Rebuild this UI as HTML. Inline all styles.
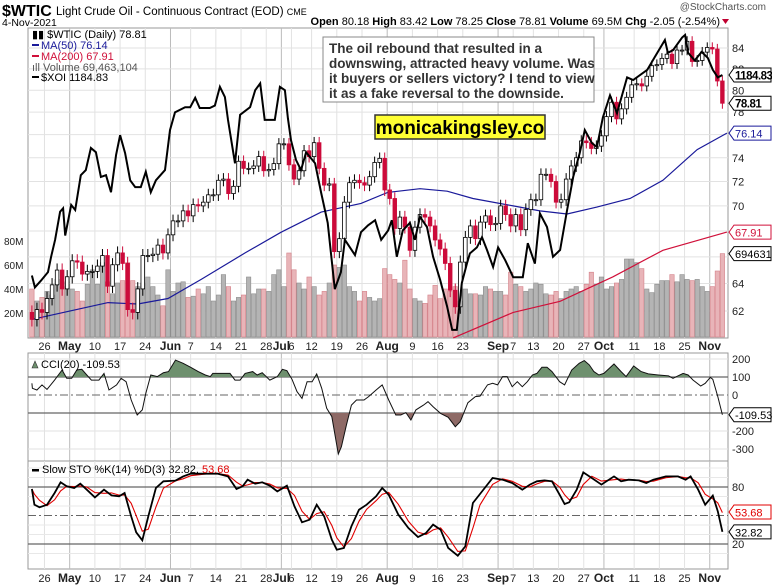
<!DOCTYPE html>
<html><head><meta charset="utf-8">
<style>
html,body{margin:0;padding:0;background:#fff;}
svg{display:block;font-family:"Liberation Sans",Arial,sans-serif;}
</style></head>
<body>
<svg id="chart" width="772" height="585" viewBox="0 0 772 585" xmlns="http://www.w3.org/2000/svg">
<rect x="0" y="0" width="772" height="585" fill="#fff"/>
<g>
<text x="2" y="16" font-size="16" font-weight="bold">$WTIC</text>
<text x="56" y="15" font-size="11.5">Light Crude Oil - Continuous Contract (EOD) <tspan font-size="9">CME</tspan></text>
<text x="2" y="26" font-size="10.5">4-Nov-2021</text>
<text x="766" y="10" font-size="10" fill="#555" text-anchor="end">@StockCharts.com</text>
<text x="720" y="25" font-size="11" text-anchor="end"><tspan font-weight="bold">Open</tspan> 80.18  <tspan font-weight="bold">High</tspan> 83.42  <tspan font-weight="bold">Low</tspan> 78.25  <tspan font-weight="bold">Close</tspan> 78.81  <tspan font-weight="bold">Volume</tspan> 69.5M  <tspan font-weight="bold">Chg</tspan> -2.05 (-2.54%)</text>
<path d="M722,19 L729,19 L725.5,24 Z" fill="#c00030"/>
</g>
<g id="grid"></g>
<g id="marks"></g>
<g id="overlay"></g>
</svg>
<script>
// ---------------- data ----------------
const closes = [61.4,62.1,61.9,62.9,63.9,65.0,63.6,
64.5,65.7,65.6,64.7,64.9,64.9,65.3,66.1,63.8,65.4,66.3,65.5,62.1,61.9,63.6,66.1,66.1,66.2,66.9,66.3,
67.7,68.8,68.8,69.6,69.2,70.1,70.0,70.3,70.9,70.9,72.1,72.2,71.0,71.6,73.7,73.1,73.1,73.3,74.1,72.9,73.0,73.5,
75.2,75.2,73.4,72.2,72.9,74.6,74.1,75.3,73.1,71.7,71.8,66.4,67.4,70.3,71.9,72.1,71.9,71.7,72.4,73.6,73.95,
71.3,70.6,68.2,69.1,68.3,66.5,68.3,69.3,69.1,68.4,67.3,66.6,65.5,63.5,62.3,65.6,67.5,68.4,67.4,68.7,69.2,68.5,
68.6,70.0,69.3,68.4,69.3,68.1,69.7,70.5,70.5,72.6,72.6,72.0,70.3,70.5,72.2,73.3,74.0,75.45,75.3,74.8,75.0,
75.9,77.6,78.9,77.4,78.3,79.35,80.5,80.6,80.4,81.3,82.3,82.4,83.0,83.4,82.5,83.8,83.8,84.65,82.7,82.8,83.6,
84.05,83.9,80.86,78.81];
const firstOpen = 61.9;
const volumes = [40,30,33,38,35,48,42,
46,40,38,30,44,56,44,62,46,36,45,47,62,47,42,45,50,42,35,26,
56,38,45,46,33,34,40,36,42,30,35,52,42,30,33,35,50,36,40,40,38,52,
56,42,70,56,45,40,50,42,35,38,45,60,58,60,42,38,30,38,33,30,32,
57,52,48,45,64,40,32,30,28,35,43,32,40,38,42,30,40,36,36,35,42,40,
38,38,35,54,44,42,38,40,45,44,36,35,38,32,38,40,42,38,44,54,44,
50,40,42,45,48,65,65,62,57,40,37,44,47,47,52,46,52,48,47,48,42,
38,42,55,69.5];
const ma50Day = [0,15.1,21,27,33.6,42.3,49.4,57.4,65.3,70.6,77,82.4,87.5,95.5,100.8,106.2,112.1,118.7,125.2,132,137.9];
const ma50Val = [61.4,62.6,62.5,62.9,64.3,66.3,67.9,69.5,70.2,71.1,71.4,71.2,70.6,70.0,69.6,69.35,69.9,70.6,72.1,74.7,76.14];
const ma200Day = [83.6,95.5,104.8,115.3,125.2,137.9];
const ma200Val = [60.1,61.9,62.7,64.5,66.5,67.91];
const xoiDay = [0,0.6,1.8,3.2,3.8,4.6,5.6,6.2,6.6,7.8,8.6,9.7,10.7,11.7,12.7,13.7,14.7,15.7,16.7,17.5,18.5,19.5,20.5,21.6,22.6,23.6,24.6,26.4,27.4,28.4,30.4,31.4,32.4,33.3,35.3,36.3,37.3,38.3,38.9,40.3,41.3,43.3,44.3,45.3,46.2,48.2,49.2,50.2,50.8,51.4,52.4,53.4,54.4,56.2,57.4,58.7,60.1,61.3,62.1,64.1,65.3,66.7,68.1,69.3,70.7,71.4,72.4,73.6,75.0,76.0,77.0,78.4,79.6,81.0,82.4,83.4,84.3,85.3,86.3,86.9,88.3,89.3,90.3,91.5,92.5,93.9,95.5,97.4,98.4,99.8,100.8,102.2,103.4,104.8,106.2,107.4,108.7,109.7,111.1,112.1,113.3,114.7,116.1,118.1,119.3,122.1,123.6,125.6,126.2,127.2,129.0,129.6,130.2,131.5,132.9,134.1,135.1,136.1,137];
const xoiVal = [949,935,943,953,971,991,1024,1028,996,1032,1026,1067,1073,1099,1094,1065,1067,1047,1091,1114,1093,1061,1053,1053,1071,1047,1061,1073,1120,1141,1147,1147,1158,1146,1146,1149,1171,1159,1132,1081,1138,1147,1167,1175,1132,1132,1171,1167,1134,1108,1085,1073,1094,1081,1046,1011,933,953,991,973,1000,1008,1014,991,1002,1014,971,1002,1011,991,1018,1006,971,944,912,885,885,940,963,975,982,994,979,959,982,967,947,947,987,963,1022,1006,971,979,1026,1065,1093,1120,1105,1100,1135,1161,1140,1182,1179,1191,1206,1226,1211,1214,1229,1232,1211,1202,1212,1205,1191,1182,1184.83];
const cciDay = [0,0.1,1.0,2.0,3.0,4.5,6.0,6.9,7.9,8.9,9.9,10.9,11.8,13.3,14.3,15.3,16.8,17.7,18.7,19.7,20.9,21.9,22.6,23.6,24.9,26.1,27.1,28.5,30.0,31.5,33.0,34.4,35.4,35.9,37.9,39.3,40.3,41.3,42.3,43.8,44.7,45.7,47.2,48.7,49.7,50.6,51.6,52.6,53.6,54.6,55.6,56.5,57.5,58.5,59.5,60.8,61.4,62.4,63.4,64.4,65.9,66.8,68.3,69.5,70.8,72.2,73.2,74.2,75.2,76.2,77.7,78.6,79.6,81.1,82.6,84.0,85.0,86.5,88.0,88.9,90.4,91.4,92.4,93.4,94.3,95.3,96.3,97.3,98.3,99.3,100.2,101.2,102.2,103.2,104.7,105.7,107.1,108.6,109.6,110.6,111.5,112.5,113.5,115.5,116.9,117.9,119.4,120.9,122.3,124.3,126.3,127.2,129.2,130.2,131.2,132.7,133.6,134.6,135.1,136.1,137];
const cciVal = [65,37,28,56,31,83,139,93,93,139,143,111,83,83,120,28,56,93,74,-28,-111,-83,9,111,102,124,130,194,176,154,130,111,102,120,120,120,83,83,120,130,111,124,83,102,143,135,87,19,-19,74,74,117,37,-74,-120,-328,-287,-167,-56,-28,-28,-9,28,56,-28,-111,-111,-98,-139,-83,-56,-37,-65,-102,-124,-176,-148,-43,-9,-6,56,65,56,102,102,46,74,46,74,111,120,154,154,130,74,56,139,176,191,167,130,111,120,172,130,102,161,130,117,111,106,93,120,111,83,50,65,98,87,-9,-109.53];
const stoDay = [0,0.5,1.5,3.0,4.5,5.7,6.9,8.4,9.6,10.9,12.5,14.3,15.8,17.3,18.4,19.7,20.7,21.9,23.1,24.6,26.1,28.5,30.0,31.5,35.0,36.9,38.9,40.6,41.8,42.8,44.3,45.7,47.2,48.7,50.6,52.1,53.6,55.1,56.5,58.0,59.5,60.5,61.9,63.4,64.9,66.4,68.3,69.5,70.8,72.7,74.7,76.6,78.2,79.6,81.1,82.6,84.5,86.0,87.5,88.9,91.4,93.4,95.3,97.3,98.8,100.2,101.7,103.2,104.7,105.7,106.6,108.1,109.4,111.1,113.0,115.5,116.9,118.4,120.4,121.9,123.3,125.8,128.2,129.7,130.7,132.2,133.6,135.1,136.1,137];
const stoK = [77.9,61.4,58.6,61.4,73.7,84.9,80.7,78.9,83.5,77.2,69.1,77.2,71.2,70.2,73.7,49.1,32.3,23.9,49.1,78.9,86.0,86.7,91.2,94,94,94,91.2,77.9,80.7,87.7,83.5,84.9,81.4,75.4,81.4,59.6,42.8,45.6,61.4,49.1,24.6,14.0,15.8,38.6,56.1,61.4,70.2,78.9,71.9,50.9,36.8,27.4,31.6,40.4,35.1,15.8,7.7,17.5,63.2,72.6,89.5,87.7,84.2,77.2,82.5,86.0,87.0,86.0,71.9,62.1,63.9,77.2,95.4,89.5,82.5,91.2,86.0,87.7,87.0,84.2,87.7,91.2,91.2,87.7,91.2,77.2,61.4,70.9,54.4,32.82];
const dateLabels = ['26','May','10','17','24','Jun','7','14','21','28','Jul','6','12','19','26','Aug','9','16','23','Sep','7','13','20','27','Oct','11','18','25','Nov'];
const dateLabelDay = [2,7,12,17,22,27,31,36,41,46,49,51,55,60,65,70,75,80,85,92,95,99,104,109,113,119,124,129,134];
const priceTicks = [62,64,66,68,70,72,74,76,78,80,82,84];
const volTicks = [20,40,60,80];
const cciTicks = [200,100,0,-100,-200,-300];
const stoTicks = [80,20];

// ---------------- scales ----------------
const L = 28, R = 728;
const P = {top:28, bot:338}, C = {top:353, bot:461}, S = {top:461, bot:569};
const xDay = i => 31.9 + i*5.04;
const gridOff = 2.5;
const yPrice = v => 48 + (Math.log(84) - Math.log(v))*866;
const yVol = v => 337 - v*1.2;
const yXoi = v => 75 + (1184.83 - v)*0.85;
const yCci = v => 395 - v*0.18;
const ySto = v => 487 + (80 - v)*0.95;
const NS = 'http://www.w3.org/2000/svg';
function mk(parent, tag, attrs, text){
  const e = document.createElementNS(NS, tag);
  for (const k in attrs) e.setAttribute(k, attrs[k]);
  if (text !== undefined) e.textContent = text;
  parent.appendChild(e);
  return e;
}
const grid = document.getElementById('grid');
const marks = document.getElementById('marks');
const over = document.getElementById('overlay');

[[P,'price-panel'],[C,'cci-panel'],[S,'stochastic-panel']].forEach(([p,name])=>{
  const r = mk(grid,'rect',{x:L,y:p.top,width:R-L,height:p.bot-p.top,fill:'#fff',stroke:'#999','stroke-width':1});
  
  
  dateLabelDay.forEach((d,k)=>{
    const isMonth = /[A-Z]/.test(dateLabels[k]);
    const gl = mk(grid,'line',{x1:xDay(d)+gridOff,x2:xDay(d)+gridOff,y1:p.top,y2:p.bot,stroke:isMonth?'#bbb':'#e2e2e2','stroke-width':1});
    
    
  });
});
priceTicks.forEach(t=>{
  const gl = mk(grid,'line',{x1:L,x2:R,y1:yPrice(t),y2:yPrice(t),stroke:'#e2e2e2'});
  
  
  const tl = mk(grid,'text',{x:R+4,y:yPrice(t)+4,'font-size':11,fill:'#222'},String(t));
  
  
});
volTicks.forEach(t=>{
  const tl = mk(grid,'text',{x:4,y:yVol(t)+4,'font-size':10,fill:'#222'},t+'M');
  
  
});
[345,577].forEach(yy=>{
  dateLabels.forEach((lab,k)=>{
    const isMonth = /[A-Z]/.test(lab);
    const t = mk(grid,'text',{x:xDay(dateLabelDay[k])+gridOff,y:yy+5,'font-size':isMonth?12:11,'font-weight':isMonth?'bold':'normal','text-anchor':'middle',fill:'#222'},lab);
    
    
  });
});
cciTicks.forEach(t=>{
  if (t===100||t===-100){
    const l = mk(grid,'line',{x1:L,x2:R,y1:yCci(t),y2:yCci(t),stroke:'#666','stroke-width':1.2});
    
    
  } else if (t===0){
    const l = mk(grid,'line',{x1:L,x2:R,y1:yCci(t),y2:yCci(t),stroke:'#666','stroke-dasharray':'8,3,2,3'});
    
    
  } else {
    const l = mk(grid,'line',{x1:L,x2:R,y1:yCci(t),y2:yCci(t),stroke:'#e2e2e2'});
    
    
  }
  if (t!==-100){
    const tl = mk(grid,'text',{x:R+4,y:yCci(t)+4,'font-size':11,fill:'#222'},String(t));
    
    
  }
});
[100,90,70,60,40,30,10].forEach(t=>{
  const l = mk(grid,'line',{x1:L,x2:R,y1:ySto(t),y2:ySto(t),stroke:'#e8e8e8'});
  
  
});
stoTicks.forEach(t=>{
  const l = mk(grid,'line',{x1:L,x2:R,y1:ySto(t),y2:ySto(t),stroke:'#666','stroke-width':1.2});
  
  
  const tl = mk(grid,'text',{x:R+4,y:ySto(t)+4,'font-size':11,fill:'#222'},String(t));
  
  
});
{
  const l = mk(grid,'line',{x1:L,x2:R,y1:ySto(50),y2:ySto(50),stroke:'#666','stroke-dasharray':'8,3,2,3'});
  
  
}

volumes.forEach((v,i)=>{
  const prev = i ? closes[i-1] : firstOpen;
  const down = closes[i] < prev;
  const b = mk(marks,'rect',{x:xDay(i)-2.2,y:yVol(v),width:4.4,height:337-yVol(v),fill:down?'#e8b4b8':'#b4b4b4',stroke:down?'#d48088':'#8c8c8c','stroke-width':0.6});
  
  
});
function poly(days, vals, yf, attrs, name){
  const n = Math.min(days.length, vals.length);
  let d = '';
  for (let k=0;k<n;k++) d += (k?'L':'M') + xDay(days[k]).toFixed(1) + ',' + yf(vals[k]).toFixed(1);
  const p = mk(marks,'path',Object.assign({d:d,fill:'none'},attrs));
  
  
  return p;
}
poly(ma200Day, ma200Val, yPrice, {stroke:'#d0103a','stroke-width':1.2}, 'ma200-line');
poly(ma50Day, ma50Val, yPrice, {stroke:'#1a1a9a','stroke-width':1.2}, 'ma50-line');
closes.forEach((c,i)=>{
  const o = i ? closes[i-1] : firstOpen;
  const down = c < o;
  const col = down ? '#cc0a3a' : '#000';
  const hi = Math.max(o,c)+0.5, lo = Math.min(o,c)-0.5;
  const w = mk(marks,'line',{x1:xDay(i),x2:xDay(i),y1:yPrice(hi),y2:yPrice(lo),stroke:col,'stroke-width':1});
  
  
  const top = yPrice(Math.max(o,c)), h = Math.max(1, yPrice(Math.min(o,c))-top);
  const b = mk(marks,'rect',{x:xDay(i)-1.8,y:top,width:3.6,height:h,fill:down?col:'#fff',stroke:col,'stroke-width':0.8});
  
  
});
poly(xoiDay, xoiVal, yXoi, {stroke:'#000','stroke-width':2}, 'xoi-line');

function fillBand(days, vals, thr, above, color, name){
  const n = Math.min(days.length, vals.length);
  let pts = [];
  for (let k=0;k<n;k++){
    if (k>0){
      const a = vals[k-1]-thr, b = vals[k]-thr;
      if (a*b<0){ const t=a/(a-b); pts.push([days[k-1]+t*(days[k]-days[k-1]), thr]); }
    }
    const v = above ? Math.max(vals[k],thr) : Math.min(vals[k],thr);
    pts.push([days[k], v]);
  }
  let d = 'M'+xDay(pts[0][0])+','+yCci(thr);
  pts.forEach(p=>{ d += 'L'+xDay(p[0]).toFixed(1)+','+yCci(p[1]).toFixed(1); });
  d += 'L'+xDay(pts[pts.length-1][0])+','+yCci(thr)+'Z';
  const p = mk(marks,'path',{d:d,fill:color,stroke:'none'});
  
  
}
fillBand(cciDay, cciVal, 100, true, '#6e906e', 'cci-overbought-fill');
fillBand(cciDay, cciVal, -100, false, '#8e6a66', 'cci-oversold-fill');
poly(cciDay, cciVal, yCci, {stroke:'#111','stroke-width':1}, 'cci-line');

function kAt(t){
  if (t<=stoDay[0]) return stoK[0];
  for (let k=1;k<stoDay.length;k++){ if (t<=stoDay[k]){ const f=(t-stoDay[k-1])/(stoDay[k]-stoDay[k-1]); return stoK[k-1]+f*(stoK[k]-stoK[k-1]); } }
  return stoK[stoK.length-1];
}
const stoD = stoDay.map(t => (kAt(t)+kAt(t-1)+kAt(t-2))/3);
poly(stoDay, stoD, ySto, {stroke:'#e00000','stroke-width':1.1}, 'sto-d-line');
poly(stoDay, stoK, ySto, {stroke:'#000','stroke-width':1.8}, 'sto-k-line');

function tag(y, text, color, name, bold){
  const g = mk(over,'g',{});
  
  
  mk(g,'path',{d:`M${R+1},${y} L${R+6},${y-7} L771,${y-7} L771,${y+7} L${R+6},${y+7} Z`,fill:'#fff',stroke:color,'stroke-width':1});
  mk(g,'text',{x:R+7,y:y+4.5,'font-size':bold?11.5:11,'font-weight':bold?'bold':'normal','letter-spacing':bold?'-0.5':'0',fill:bold?'#000':color},text);
}
tag(yXoi(1184.83),'1184.83','#000','xoi-value-tag',true);
tag(yPrice(78.81),'78.81','#000','price-value-tag',true);
tag(yPrice(76.14),'76.14','#1a1a9a','ma50-value-tag',false);
tag(yPrice(67.91),'67.91','#d0103a','ma200-value-tag',false);
tag(yVol(69.46),'6946310','#000','volume-value-tag',false);
tag(yCci(-109.53),'-109.53','#000','cci-value-tag',false);
tag(ySto(53.68),'53.68','#e00000','sto-d-value-tag',false);
tag(ySto(32.82),'32.82','#000','sto-k-value-tag',false);
</script>
<svg style="position:absolute;left:0;top:0" width="772" height="585">
<g font-family="Liberation Sans, sans-serif" font-size="11">
<text x="32" y="38">▮▮ $WTIC (Daily) 78.81</text>
<rect x="32" y="44" width="7" height="2" fill="#1a1a9a"/>
<text x="41" y="49" fill="#1a1a9a">MA(50) 76.14</text>
<rect x="32" y="55" width="7" height="2" fill="#d0103a"/>
<text x="41" y="60" fill="#d0103a">MA(200) 67.91</text>
<text x="32" y="71" fill="#555">ıll Volume 69,463,104</text>
<rect x="32" y="76" width="7" height="2" fill="#000"/>
<text x="41" y="81">$XOI 1184.83</text>
</g>
<g font-family="Liberation Sans, sans-serif">
<rect x="323" y="37" width="271" height="65" fill="#fff" stroke="#888" stroke-width="1"/>
<text x="329" y="53" font-size="13.5" font-weight="bold" fill="#333">The oil rebound that resulted in a</text>
<text x="329" y="68" font-size="13.5" font-weight="bold" fill="#333">downswing, attracted heavy volume. Was</text>
<text x="329" y="83" font-size="13.5" font-weight="bold" fill="#333">it buyers or sellers victory? I tend to view</text>
<text x="329" y="98" font-size="13.5" font-weight="bold" fill="#333">it as a fake reversal to the downside.</text>
</g>
<g font-family="Liberation Sans, sans-serif">
<rect x="375" y="115" width="170" height="24" fill="#ffff33" stroke="#333" stroke-width="1.5"/>
<text x="460" y="134" font-size="19" font-weight="bold" text-anchor="middle" fill="#000">monicakingsley.co</text>
</g>
<g font-family="Liberation Sans, sans-serif" font-size="11">
<path d="M32,368 L35,361 L38,368 Z" fill="#6e906e" stroke="#333" stroke-width="0.6"/>
<text x="41" y="368">CCI(20) -109.53</text>
</g>
<g font-family="Liberation Sans, sans-serif" font-size="11">
<rect x="32" y="469" width="7" height="2.5" fill="#000"/>
<text x="42" y="473">Slow STO %K(14) %D(3) 32.82, <tspan fill="#e00000">53.68</tspan></text>
</g>
</svg>
</body></html>
